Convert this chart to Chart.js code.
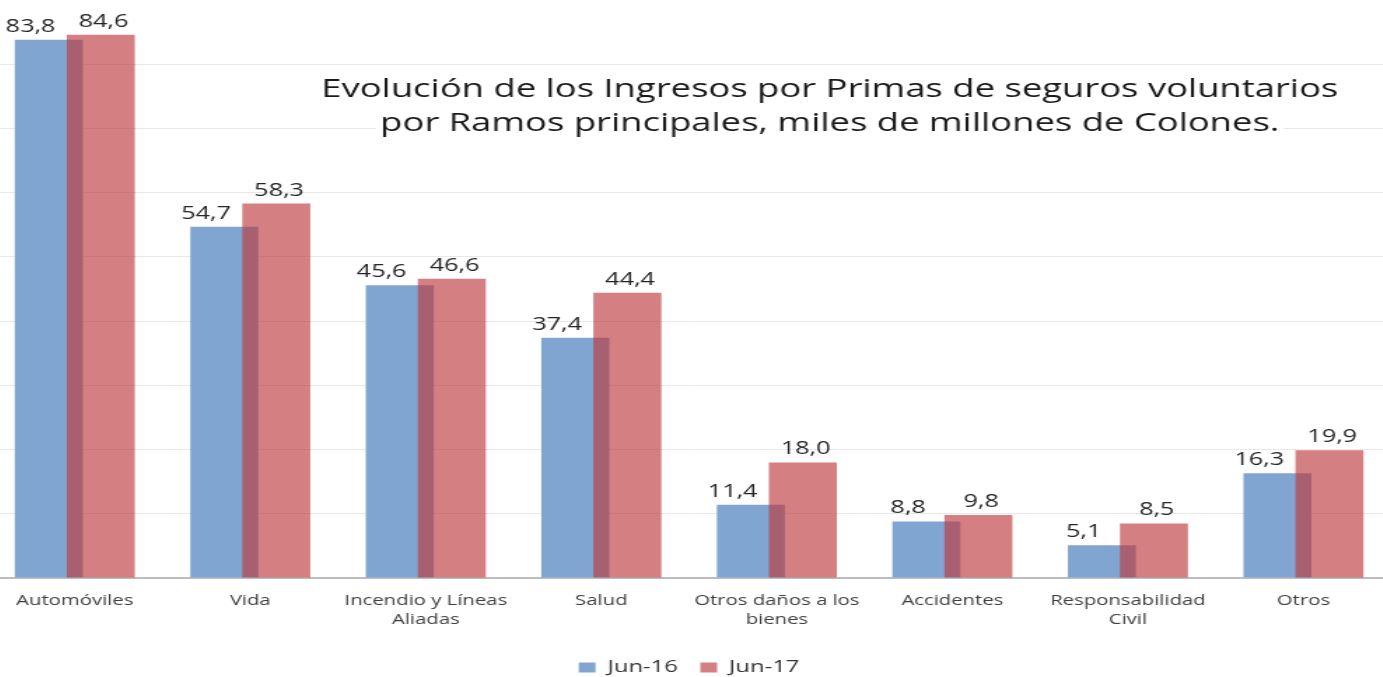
<!DOCTYPE html>
<html lang="es">
<head>
  <meta charset="UTF-8">
  <title>Ingresos por Primas</title>
  <script src="https://cdn.jsdelivr.net/npm/chart.js"></script>
  <style>
    html, body { margin: 0; padding: 0; background: #fff; overflow: hidden; width: 1383px; height: 677px; }
    /* el original viene estirado en horizontal */
    #chart { position: absolute; left: -12.75px; top: 0; transform: scaleX(1.4); transform-origin: 0 0; }
  </style>
</head>
<body>
  <canvas id="chart" width="1003" height="686"></canvas>

  <script>
    // datos
    const categorias = [
      'Automóviles', 'Vida', ['Incendio y Líneas', 'Aliadas'], 'Salud',
      ['Otros daños a los', 'bienes'], 'Accidentes', ['Responsabilidad', 'Civil'], 'Otros'
    ];
    const jun16 = [83.8, 54.7, 45.6, 37.4, 11.4, 8.8, 5.1, 16.3];
    const jun17 = [84.6, 58.3, 46.6, 44.4, 18.0, 9.8, 8.5, 19.9];
    const series = ['Jun-16', 'Jun-17'];
    const titulo = [
      'Evolución de los Ingresos por Primas de seguros voluntarios',
      'por Ramos principales, miles de millones de Colones.'
    ];

    const fmt = v => v.toFixed(1).replace('.', ',');

    // Chart.js pinta el primer dataset encima; aqui el rojo debe quedar arriba
    let pintandoRojo = false;
    const ordenPintado = {
      id: 'ordenPintado',
      beforeDatasetDraw(chart, args) {
        if (args.index === 1 && !pintandoRojo) return false;
      },
      afterDatasetsDraw(chart) {
        pintandoRojo = true;
        chart.getDatasetMeta(1).controller.draw();
        pintandoRojo = false;
      }
    };

    // etiquetas de valor encima de cada barra
    const etiquetas = {
      id: 'etiquetas',
      afterDatasetsDraw(chart) {
        const ctx = chart.ctx;
        ctx.save();
        ctx.font = '18px "Open Sans"';
        ctx.fillStyle = '#262626';
        ctx.textAlign = 'center';
        ctx.textBaseline = 'alphabetic';
        chart.data.datasets.forEach((ds, i) => {
          const shift = i === 0 ? -13 : 2;
          chart.getDatasetMeta(i).data.forEach((bar, j) => {
            ctx.fillText(fmt(ds.data[j]), bar.x + shift, bar.y - 8);
          });
        });
        ctx.restore();
      }
    };

    // titulo dentro del area del grafico
    const tituloPlugin = {
      id: 'tituloPlugin',
      afterDatasetsDraw(chart) {
        const ctx = chart.ctx;
        ctx.save();
        ctx.font = '26px "Open Sans"';
        ctx.textAlign = 'center';
        ctx.textBaseline = 'middle';
        const cx = 602;
        const ys = [90, 124];
        titulo.forEach((t, i) => {
          const w = ctx.measureText(t).width;
          ctx.fillStyle = '#fff';
          ctx.fillRect(cx - w / 2 - 3, ys[i] - 15, w + 6, 31);
          ctx.fillStyle = '#1a1a1a';
          ctx.fillText(t, cx, ys[i]);
        });
        ctx.restore();
      }
    };

    new Chart(document.getElementById('chart'), {
      type: 'bar',
      data: {
        labels: categorias,
        datasets: [
          {
            label: series[0],
            data: jun16,
            backgroundColor: 'rgb(128,165,208)',
            borderWidth: 0
          },
          {
            label: series[1],
            data: jun17,
            backgroundColor: 'rgba(189,59,61,0.65)',
            borderWidth: 0
          }
        ]
      },
      options: {
        responsive: false,
        animation: false,
        categoryPercentage: 0.5926,
        barPercentage: 1.3077,
        layout: { padding: 0 },
        scales: {
          x: {
            grid: { display: false, drawTicks: false },
            border: { display: true, color: '#bdbdbd', width: 2 },
            ticks: {
              color: '#404040',
              font: { family: 'Open Sans', size: 14.5, lineHeight: 1.35 },
              padding: 13,
              maxRotation: 0,
              autoSkip: false
            },
            afterFit(axis) { axis.height = 65; }
          },
          y: {
            min: 0,
            max: 90,
            ticks: { display: false, stepSize: 10 },
            border: { display: false },
            grid: {
              drawTicks: false,
              color: c => (c.tick && c.tick.value === 90) ? 'rgba(0,0,0,0)' : '#e8e8e8',
              lineWidth: 1
            },
            afterFit(axis) { axis.width = 0; }
          }
        },
        plugins: {
          legend: {
            position: 'bottom',
            labels: {
              color: '#333',
              font: { family: 'Open Sans', size: 17 },
              boxWidth: 12,
              boxHeight: 10,
              padding: 16
            }
          },
          tooltip: { enabled: false }
        }
      },
      plugins: [ordenPintado, etiquetas, tituloPlugin]
    });
  </script>
</body>
</html>
